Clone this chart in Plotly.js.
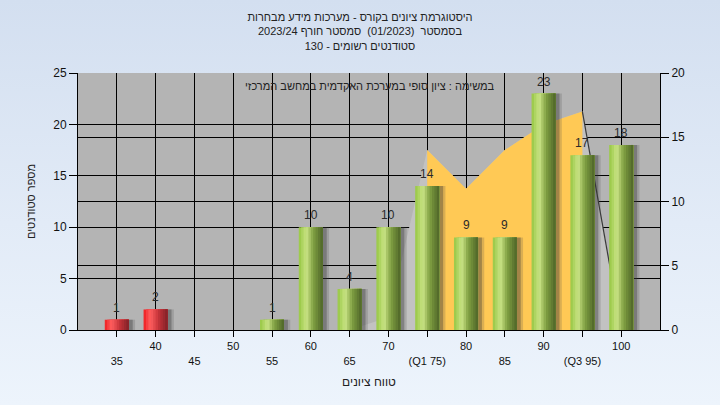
<!DOCTYPE html>
<html>
<head>
<meta charset="utf-8">
<script src="https://cdn.plot.ly/plotly-3.0.1.min.js"></script>
<style>
  html, body { margin: 0; padding: 0; }
  #chart {
    width: 720px; height: 405px;
    background: linear-gradient(to bottom, #d3dff0 0%, #e2ebf7 55%, #edf4fc 100%);
  }
</style>
</head>
<body>
<div id="chart"></div>
<script>
// Grade bins and their axis labels
const grades = [35, 40, 45, 50, 55, 60, 65, 70, 75, 80, 85, 90, 95, 100];
const tickLabels = ['35', '40', '45', '50', '55', '60', '65', '70', '(Q1 75)', '80', '85', '90', '(Q3 95)', '100'];
// Number of students per bin (left axis)
const students = [1, 2, 0, 0, 1, 10, 4, 10, 14, 9, 9, 23, 17, 18];
// Background distribution curve (right axis)
const curve = [0, 0, 0, 0, 0, 0, 0, 1, 14, 11, 14, 16, 17, 0];
const q1Grade = 75;
const q3Grade = 95;
const passGrade = 55;

const titleLines = [
  'היסטוגרמת ציונים בקורס - מערכות מידע מבחרות',
  'בסמסטר  (01/2023)  סמסטר חורף 2023/24',
  'סטודנטים רשומים - 130'
];
const taskNote = 'במשימה : ציון סופי במערכת האקדמית במחשב המרכזי';
const xTitle = 'טווח ציונים';
const yTitle = 'מספר סטודנטים';

const FONT = 'Liberation Sans, Arial, sans-serif';
const BAR_W = 3.1;       // bar width in grade units
const SLICES = 10;       // slices used to shade each bar like a cylinder

// colour ramps across a bar, left edge -> right edge
const greenStops = [[0, [150, 198, 66]], [0.32, [202, 228, 134]], [0.6, [128, 160, 66]], [1, [78, 100, 40]]];
const redStops = [[0, [238, 28, 32]], [0.28, [255, 96, 96]], [0.6, [200, 52, 58]], [1, [128, 34, 40]]];

function ramp(stops, t) {
  for (let i = 1; i < stops.length; i++) {
    if (t <= stops[i][0]) {
      const [t0, c0] = stops[i - 1], [t1, c1] = stops[i];
      const f = (t - t0) / (t1 - t0);
      const c = c0.map((v, k) => Math.round(v + (c1[k] - v) * f));
      return `rgb(${c[0]},${c[1]},${c[2]})`;
    }
  }
  const c = stops[stops.length - 1][1];
  return `rgb(${c[0]},${c[1]},${c[2]})`;
}

const traces = [];

// distribution curve: full extent in light grey, inter-quartile part in amber
traces.push({
  type: 'scatter', mode: 'none', x: grades, y: curve,
  fill: 'tozeroy', fillcolor: '#c2c2c2',
  xaxis: 'x', yaxis: 'y', hoverinfo: 'skip', showlegend: false
});
const iqrIdx = grades.map((g, i) => i).filter(i => grades[i] >= q1Grade && grades[i] <= q3Grade);
traces.push({
  type: 'scatter', mode: 'none',
  x: iqrIdx.map(i => grades[i]), y: iqrIdx.map(i => curve[i]),
  fill: 'tozeroy', fillcolor: '#ffc955',
  xaxis: 'x', yaxis: 'y', hoverinfo: 'skip', showlegend: false
});
const tailIdx = grades.map((g, i) => i).filter(i => grades[i] >= q3Grade);
traces.push({
  type: 'scatter', mode: 'lines',
  x: tailIdx.map(i => grades[i]), y: tailIdx.map(i => curve[i]),
  line: { color: '#3a3a3a', width: 1.2 },
  xaxis: 'x', yaxis: 'y', hoverinfo: 'skip', showlegend: false
});

// soft drop shadows to the right of each bar
[[0.8, 'rgba(70,70,70,0.2)'], [0.5, 'rgba(50,50,50,0.33)']].forEach(([shift, col]) => {
  traces.push({
    type: 'bar', x: grades, y: students,
    width: BAR_W, offset: -BAR_W / 2 + shift,
    marker: { color: col, line: { width: 0 } },
    xaxis: 'x', yaxis: 'y2', hoverinfo: 'skip', showlegend: false
  });
});

// cylinder-shaded bars: each slice covers from its left edge to the bar's right edge
for (let k = 0; k < SLICES; k++) {
  const t = (k + 0.5) / SLICES;
  traces.push({
    type: 'bar', x: grades, y: students,
    width: BAR_W * (1 - k / SLICES),
    offset: -BAR_W / 2 + BAR_W * k / SLICES,
    marker: {
      color: grades.map(g => ramp(g < passGrade ? redStops : greenStops, t)),
      line: { width: 0 }
    },
    xaxis: 'x', yaxis: 'y2', hoverinfo: 'skip', showlegend: false
  });
}

// value labels above the bars
const valueLabels = students
  .map((v, i) => ({ v, g: grades[i] }))
  .filter(d => d.v > 0)
  .map(d => ({
    text: String(d.v), x: d.g, y: d.v, xref: 'x', yref: 'y2',
    showarrow: false, xanchor: 'center', yanchor: 'middle', yshift: 12,
    font: { family: FONT, size: 12, color: '#2a2a2a' }
  }));

const layout = {
  width: 720, height: 405,
  margin: { l: 78, r: 60, t: 73, b: 75 },
  paper_bgcolor: 'rgba(0,0,0,0)',
  plot_bgcolor: '#b4b4b4',
  barmode: 'overlay',
  font: { family: FONT, color: '#111' },
  title: {
    text: titleLines.join('<br>'),
    font: { family: FONT, size: 11, color: '#222' },
    xref: 'container', x: 0.5, xanchor: 'center',
    yref: 'container', y: 1 - 21 / 405, yanchor: 'top'
  },
  xaxis: {
    range: [30, 105],
    tickvals: grades,
    ticktext: tickLabels.map((t, i) => (i % 2 === 0 ? '<br>' + t : t)),
    tickangle: 0,
    ticks: 'outside', ticklen: 6, tickcolor: '#000', tickwidth: 1,
    showline: true, linecolor: '#000', linewidth: 1,
    showgrid: true, gridcolor: '#000', gridwidth: 1,
    zeroline: false,
    tickfont: { family: FONT, size: 11, color: '#111' },
    title: { text: xTitle, font: { family: FONT, size: 12, color: '#222' }, standoff: 12 }
  },
  yaxis: {
    range: [0, 20], dtick: 5, side: 'right',
    ticks: 'outside', ticklen: 8, tickcolor: '#000',
    showline: true, linecolor: '#000', linewidth: 1,
    showgrid: true, gridcolor: '#000', gridwidth: 1,
    zeroline: false,
    tickfont: { family: FONT, size: 12, color: '#111' }
  },
  yaxis2: {
    range: [0, 25], dtick: 5, side: 'left', overlaying: 'y',
    ticks: 'outside', ticklen: 8, tickcolor: '#000',
    showline: true, linecolor: '#000', linewidth: 1,
    showgrid: true, gridcolor: '#000', gridwidth: 1,
    zeroline: false,
    tickfont: { family: FONT, size: 12, color: '#111' },
    title: { text: yTitle, font: { family: FONT, size: 11, color: '#222' }, standoff: 15 }
  },
  annotations: [{
    text: taskNote, showarrow: false,
    xref: 'paper', yref: 'paper', x: 0.502, y: 0.949,
    xanchor: 'center', yanchor: 'middle',
    font: { family: FONT, size: 11, color: '#222' }
  }].concat(valueLabels)
};

Plotly.newPlot('chart', traces, layout, { displayModeBar: false, staticPlot: true });
</script>
</body>
</html>
